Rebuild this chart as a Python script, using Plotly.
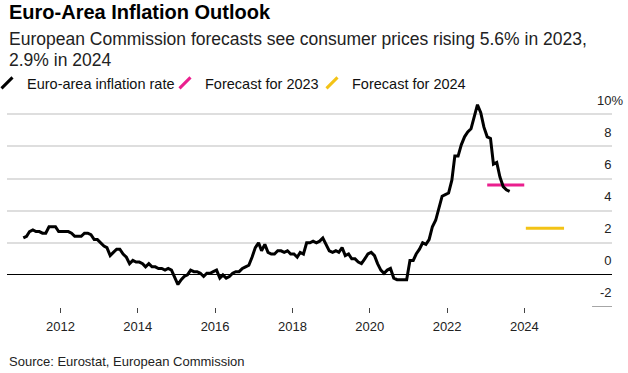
import pandas as pd
import plotly.graph_objects as go

# Euro-area HICP annual inflation rate (%), monthly, Jan 2011 - Aug 2023
infl_2011 = [2.3, 2.4, 2.7, 2.8, 2.7, 2.7, 2.6, 2.6, 3.0, 3.0, 3.0, 2.7]
infl_2012 = [2.7, 2.7, 2.7, 2.6, 2.4, 2.4, 2.4, 2.6, 2.6, 2.5, 2.2, 2.2]
infl_2013 = [2.0, 1.8, 1.7, 1.2, 1.4, 1.6, 1.6, 1.3, 1.1, 0.7, 0.9, 0.8]
infl_2014 = [0.8, 0.7, 0.5, 0.7, 0.5, 0.5, 0.4, 0.4, 0.3, 0.4, 0.3, -0.2]
infl_2015 = [-0.6, -0.3, -0.1, 0.0, 0.3, 0.2, 0.2, 0.1, -0.1, 0.1, 0.1, 0.2]
infl_2016 = [0.3, -0.2, 0.0, -0.2, -0.1, 0.1, 0.2, 0.2, 0.4, 0.5, 0.6, 1.1]
infl_2017 = [1.7, 2.0, 1.5, 1.9, 1.4, 1.3, 1.3, 1.5, 1.5, 1.4, 1.5, 1.3]
infl_2018 = [1.3, 1.1, 1.4, 1.3, 2.0, 2.0, 2.1, 2.0, 2.1, 2.3, 1.9, 1.5]
infl_2019 = [1.4, 1.5, 1.4, 1.7, 1.2, 1.3, 1.0, 1.0, 0.8, 0.7, 1.0, 1.3]
infl_2020 = [1.4, 1.2, 0.7, 0.3, 0.1, 0.3, 0.4, -0.2, -0.3, -0.3, -0.3, -0.3]
infl_2021 = [0.9, 0.9, 1.3, 1.6, 2.0, 1.9, 2.2, 3.0, 3.4, 4.1, 4.9, 5.0]
infl_2022 = [5.1, 5.9, 7.4, 7.4, 8.1, 8.6, 8.9, 9.1, 9.9, 10.6, 10.1, 9.2]
infl_2023 = [8.6, 8.5, 6.9, 7.0, 6.1, 5.5, 5.3, 5.2]

inflation = (infl_2011 + infl_2012 + infl_2013 + infl_2014 + infl_2015 + infl_2016 +
             infl_2017 + infl_2018 + infl_2019 + infl_2020 + infl_2021 + infl_2022 + infl_2023)
months = pd.date_range("2011-01-01", periods=len(inflation), freq="MS") + pd.Timedelta(days=14)

# European Commission forecasts (annual averages)
fc2023_x = ["2023-01-15", "2023-12-31"]
fc2023_y = [5.6, 5.6]
fc2024_x = ["2024-01-15", "2025-01-10"]
fc2024_y = [2.9, 2.9]

year_ticks = ["2012-01-01", "2014-01-01", "2016-01-01", "2018-01-01",
              "2020-01-01", "2022-01-01", "2024-01-01"]
year_labels = ["2012", "2014", "2016", "2018", "2020", "2022", "2024"]
y_grid = [0, 2, 4, 6, 8, 10]
y_ticks = [-2, 0, 2, 4, 6, 8, 10]
y_labels = ["-2", "0", "2", "4", "6", "8", "10%"]

BLACK = "#000000"
PINK = "#ea1f8e"
YELLOW = "#f3c316"
FONT = "Liberation Sans, Arial, sans-serif"

ghost = "<span style='color:rgba(0,0,0,0)'>%</span>"
y_text = [t if t.endswith("%") else t + ghost for t in y_labels]

fig = go.Figure()

fig.add_trace(go.Scatter(x=fc2023_x, y=fc2023_y, mode="lines", yaxis="y",
                         line=dict(color=PINK, width=3), showlegend=False, hoverinfo="skip"))
fig.add_trace(go.Scatter(x=fc2024_x, y=fc2024_y, mode="lines", yaxis="y",
                         line=dict(color=YELLOW, width=3), showlegend=False, hoverinfo="skip"))
fig.add_trace(go.Scatter(x=months, y=inflation, mode="lines", yaxis="y2",
                         line=dict(color=BLACK, width=3), showlegend=False))

# legend entries (diagonal stroke symbols)
for name, col, lg in [("Euro-area inflation rate", BLACK, "legend"),
                      ("Forecast for 2023", PINK, "legend2"),
                      ("Forecast for 2024", YELLOW, "legend3")]:
    fig.add_trace(go.Scatter(x=[None], y=[None], mode="markers", name=name, legend=lg,
                             marker=dict(symbol="line-ne", size=11, color=col,
                                         line=dict(width=3, color=col))))

legend_common = dict(yref="container", xanchor="left", yanchor="middle",
                     orientation="h", font=dict(family=FONT, size=14.5, color="#111"),
                     bgcolor="rgba(0,0,0,0)", borderwidth=0, itemwidth=30)
LEG_Y = 1 - 83 / 373

PLOT_BOTTOM = 307          # pixel row of the x axis
PLOT_H = 373 - 88 - 66     # plot height in pixels
yr = [-2, 11.64]

def py(px):
    """paper y for a pixel row"""
    return (PLOT_BOTTOM - px) / PLOT_H

fig.update_layout(
    width=628, height=373,
    margin=dict(l=7, r=16, t=88, b=66, autoexpand=False),
    paper_bgcolor="white", plot_bgcolor="white",
    font=dict(family=FONT, color="#222"),
    showlegend=True,
    legend=dict(xref="paper", x=(-13 - 7) / 605, y=LEG_Y, **legend_common),
    legend2=dict(xref="container", x=165 / 628, y=LEG_Y, **legend_common),
    legend3=dict(xref="container", x=312 / 628, y=LEG_Y, **legend_common),
    xaxis=dict(type="date", range=["2010-08-14", "2026-04-08"],
               tickmode="array", tickvals=year_ticks, ticktext=year_labels,
               ticks="outside", ticklen=5, tickwidth=1, tickcolor="#444",
               ticklabelstandoff=2,
               showgrid=False, showline=False, zeroline=False,
               tickfont=dict(family=FONT, size=13, color="#222")),
    yaxis=dict(range=yr, side="right", tickmode="array", tickvals=y_grid,
               showticklabels=False, showgrid=True, gridcolor="#dedede", gridwidth=1.5,
               zeroline=True, zerolinecolor="#000", zerolinewidth=1, ticks=""),
    yaxis2=dict(range=yr, overlaying="y", side="right", tickmode="array",
                tickvals=y_ticks, ticktext=y_text, ticklabelposition="inside top",
                ticklabelshift=-5, ticklabelstandoff=-14,
                showgrid=False, zeroline=False, showline=False, ticks="",
                tickfont=dict(family=FONT, size=13, color="#222")),
    annotations=[
        dict(text="<b>Euro-Area Inflation Outlook</b>", xref="paper", yref="paper",
             x=0, y=py(12), xanchor="left", yanchor="middle", showarrow=False,
             font=dict(family=FONT, size=20, color="#000")),
        dict(text="European Commission forecasts see consumer prices rising 5.6% in 2023,",
             xref="paper", yref="paper", x=0, y=py(39), xanchor="left",
             yanchor="middle", align="left", showarrow=False,
             font=dict(family=FONT, size=17.5, color="#222")),
        dict(text="2.9% in 2024",
             xref="paper", yref="paper", x=0, y=py(60), xanchor="left",
             yanchor="middle", align="left", showarrow=False,
             font=dict(family=FONT, size=17.5, color="#222")),
        dict(text="Source: Eurostat, European Commission", xref="paper", yref="paper",
             x=0, y=py(361.5), xanchor="left", yanchor="middle", showarrow=False,
             font=dict(family=FONT, size=13, color="#222")),
    ],
    shapes=[dict(type="line", xref="paper", yref="y", x0=0.967, x1=1.0, y0=-2, y1=-2,
                 line=dict(color="#888", width=1.5))],
)

fig.write_html("out.html", post_script="document.body.style.margin='0';",
               config={"displayModeBar": False})
